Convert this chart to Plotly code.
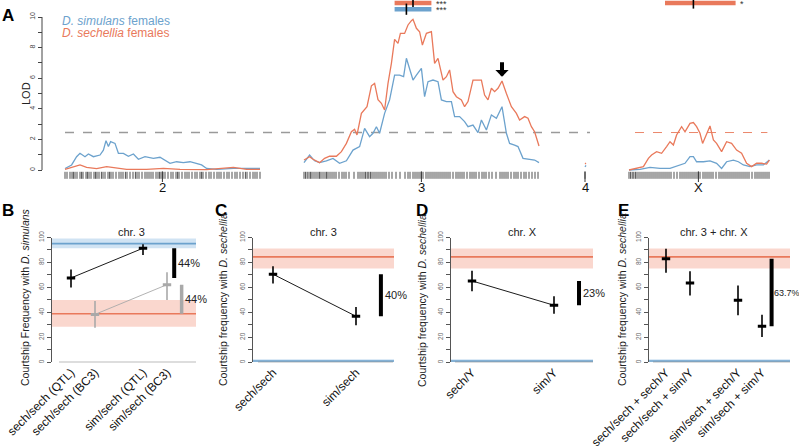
import plotly.graph_objects as go

# ---------------- DATA ----------------
# Panel A: LOD profiles (position in cM along each chromosome)
chr2_sim_pos = [0, 3.3, 5.8, 7.5, 10, 11.7, 14.2, 17.5, 19.2, 20.5, 21.7, 22.8, 25, 26.7, 29.2, 31.7, 34.2,
                36.7, 40, 44.2, 47.5, 50, 52.5, 55.8, 59.2, 62.5, 65.8, 68.3, 70.8, 75.8, 84.2, 90.8, 97.5]
chr2_sim_lod = [0.1, 0.33, 0.87, 1.09, 0.87, 1.05, 0.87, 0.98, 1.3, 1.92, 1.53, 1.85, 1.74, 1.09, 1.09, 0.9,
                1.05, 0.7, 0.87, 0.76, 0.83, 0.65, 0.44, 0.54, 0.48, 0.54, 0.44, 0.33, 0.1, 0.04, 0.1, 0.1, 0.1]
chr2_sech_pos = [0, 4.2, 7.5, 10.8, 15.8, 20.8, 24.2, 30.8, 40.8, 49.2, 57.5, 70.8, 84.2, 90.8, 97.5]
chr2_sech_lod = [0.04, 0.22, 0.33, 0.17, 0.09, 0.22, 0.15, 0.04, 0.04, 0.1, 0.04, 0.02, 0.17, 0.04, 0.04]

chr3_sech_pos = [0, 2.8, 4.5, 7.8, 10.3, 12.8, 16.2, 18.7, 21.2, 23.7, 25.3, 26.5, 28.7, 31.5, 33.7, 35.3,
                 37, 38.7, 40.3, 42, 43.7, 45.3, 47, 48.2, 50.3, 52, 53.7, 54.5, 56.2, 57.8, 59.2, 61.2,
                 63.7, 65.3, 67, 69.5, 71.2, 72.8, 74.5, 76.2, 78.7, 80.3, 82, 84.5, 86.2, 88.7, 90.3, 92,
                 93.7, 95.3, 97, 99, 101.2, 103.7, 106.2, 107.8, 110.3, 112, 113.7, 115.3, 117.5]
chr3_sech_lod = [0.65, 0.87, 0.7, 0.48, 0.76, 0.9, 0.9, 1.2, 1.74, 2.5, 2.66, 2.29, 3.7, 4.14, 5.5, 5.66,
                 4.6, 4.36, 3.92, 5.66, 6.97, 8.54, 8.28, 8.93, 8.93, 9.48, 9.76, 9.85, 9.26, 9.04, 8.17,
                 8.93, 9.04, 6.97, 7.3, 5.88, 6.1, 6.54, 5.12, 4.79, 4.58, 4.14, 4.47, 5.88, 5.88, 5.88,
                 4.9, 4.58, 5.34, 5.12, 5.34, 5.82, 5.0, 4.14, 3.7, 3.27, 3.49, 3.38, 2.83, 2.5, 1.57]
chr3_sim_pos = [0, 2.8, 5.3, 7.8, 11.2, 14.5, 17.8, 21.2, 24.5, 27.8, 30.3, 32.8, 34.5, 36.2, 37.8, 40.3,
                42.8, 45.3, 47.8, 49.8, 51.2, 52.8, 54.5, 56.2, 58.7, 60.3, 62, 64.5, 67, 68.7, 71.2, 73.7,
                75.3, 77.8, 80.3, 82, 84.5, 87, 88.7, 91.2, 93.7, 96.2, 99, 101.2, 102.8, 105.3, 107,
                109.5, 112.8, 115.3, 117.5]
chr3_sim_lod = [0.48, 0.98, 0.6, 0.48, 0.6, 0.76, 0.44, 0.6, 1.3, 1.53, 2.72, 2.18, 2.4, 2.83, 2.4, 3.7,
                4.58, 6.2, 6.2, 6.1, 7.3, 6.54, 5.88, 6.2, 6.64, 4.79, 5.77, 5.88, 5.77, 4.58, 4.47, 4.47,
                3.49, 3.49, 3.16, 2.83, 2.94, 2.44, 3.27, 2.61, 3.6, 3.38, 4.14, 2.4, 1.74, 1.63, 1.53,
                0.76, 0.7, 0.65, 0.48]

chr4_sim_pos = [0, 0.5]
chr4_sim_lod = [0.2, 0.3]
chr4_sech_pos = [0, 0.5]
chr4_sech_lod = [0.4, 0.45]

chrX_sech_pos = [0, 3.8, 7.2, 9.7, 11.3, 13.8, 16.3, 18.8, 20.5, 22.2, 23.8, 26.3, 28, 30.5, 32.2, 33.8,
                 35.5, 36.8, 38.8, 40.5, 42.2, 43.8, 46.3, 48.8, 51.3, 53.8, 56.3, 58.8, 61.3, 63.8, 66.3,
                 68.8, 70.2]
chrX_sech_lod = [0, 0.1, 0.22, 0.76, 0.98, 1.2, 1.09, 1.53, 1.85, 1.63, 2.29, 2.83, 2.5, 3.05, 3.1, 2.83,
                 2.4, 1.74, 2.4, 2.88, 1.96, 1.74, 1.2, 1.85, 1.74, 1.3, 1.09, 0.44, 0.22, 0.44, 0.44,
                 0.39, 0.65]
chrX_sim_pos = [0, 5.5, 10.5, 15.5, 20.5, 23.8, 28, 30.5, 32.2, 33.8, 37.2, 40.5, 43.8, 46.3, 48.8, 52.2,
                54.7, 57.2, 60.5, 63.8, 67.2, 70.2]
chrX_sim_lod = [0, 0.04, 0.17, 0.1, 0.1, 0.26, 0.44, 0.87, 0.87, 0.54, 0.54, 0.6, 0.44, 0.1, 0.54, 0.65,
                0.54, 0.33, 0.22, 0.33, 0.33, 0.65]

# genetic markers (rug), cM
chr2_markers = [0, 1, 2.5, 3.5, 4.2, 5, 6, 7.5, 8.3, 9, 10.5, 11.2, 12, 13, 14.5, 15.3, 16, 17, 18.2, 19,
                20, 21.5, 22.3, 23, 24, 25.5, 27, 28, 29, 30.2, 31, 32.5, 34, 35.2, 36, 37, 38.5, 40, 41,
                42, 43, 44, 45.5, 46.5, 47.3, 48, 49, 50, 51.5, 53, 54, 55.5, 56.3, 57, 58.5, 60, 61, 62,
                63.5, 65, 66, 67.5, 68.3, 69, 70.5, 72, 73, 74.5, 76, 77, 78, 79.5, 81, 82, 83.5, 85, 86,
                87.5, 89, 90.2, 91, 92.5, 94, 95, 96, 97.5]
chr3_markers = [0, 0.8, 1.6, 2.5, 3.3, 4, 5, 6, 7, 7.8, 8.5, 9.5, 10.5, 11.3, 12, 13, 14, 15, 16, 17.5, 19,
                20, 21, 22.5, 25, 27, 28, 29, 30, 30.8, 31.6, 32.4, 33.2, 34, 35, 36, 37, 38, 39, 40, 41,
                42.5, 44, 46, 48, 50.5, 52, 53, 54.5, 55.5, 56.5, 57.5, 58.5, 59.5, 61, 62, 63, 64, 65,
                66, 67, 68, 69, 70, 71, 72, 73, 74.5, 76, 77, 78, 79, 80, 81.5, 83, 84, 85, 86, 87.5, 89,
                90, 91, 92.5, 94, 96, 98, 99, 100, 101, 102, 103.5, 105, 106, 107, 108.5, 110, 111,
                112.5, 114, 115.5, 117]
chr4_markers = [0]
chrX_markers = [0, 0.8, 1.6, 2.4, 3.2, 4, 5, 6, 7, 8, 9, 10, 11, 12, 13, 14, 15, 16, 17, 18, 19, 20, 21,
                22.5, 24, 25.5, 26.5, 27.5, 28.5, 29.5, 30.5, 31.5, 32.5, 33.5, 34.5, 35.5, 37, 38, 39,
                40, 41, 42, 43.5, 45, 46, 47, 48, 49, 50, 51, 52, 53, 54, 55, 56, 57, 58, 59, 60, 61.5,
                63, 64, 65, 66, 67, 68, 69, 70]

chrom_names = ["2", "3", "4", "X"]
chrom_label_pos = [48.7, 58.7, 0, 34.7]   # cM of label tick
lod_threshold = 2.45

# QTL intervals (cM): [start, end], peak
chr3_sech_ci = [45.3, 63.7]; chr3_sech_peak = 54.5
chr3_sim_ci = [45.3, 63.7];  chr3_sim_peak = 51.2
chrX_sech_ci = [18.0, 53.3]; chrX_sech_peak = 32.2
arrow_pos_chr3 = 99.0
arrow_lod = 6.1

# Panel B
b_labels = ["sech/sech (QTL)", "sech/sech (BC3)", "sim/sech (QTL)", "sim/sech (BC3)"]
b_qtl_mean = [67.6, 91.4]; b_qtl_lo = [60.0, 86.0]; b_qtl_hi = [74.3, 94.6]
b_bc3_mean = [38.4, 62.2]; b_bc3_lo = [27.6, 50.0]; b_bc3_hi = [49.2, 72.2]
b_sim_ref = [95.1, 91.4, 99.2]     # mean, lo, hi
b_sech_ref = [38.9, 28.4, 50.0]
b_pct = ["44%", "44%"]

# Panel C
c_labels = ["sech/sech", "sim/sech"]
c_mean = [70.6, 36.9]; c_lo = [63.1, 29.7]; c_hi = [77.0, 44.4]
c_pct = "40%"
# Panel D
d_labels = ["sech/Y", "sim/Y"]
d_mean = [65.2, 45.7]; d_lo = [57.0, 39.0]; d_hi = [73.3, 53.0]
d_pct = "23%"
# Panel E
e_labels = ["sech/sech + sech/Y", "sech/sech + sim/Y", "sim/sech + sech/Y", "sim/sech + sim/Y"]
e_mean = [82.9, 63.6, 49.7, 28.8]; e_lo = [71.7, 53.5, 37.7, 20.3]; e_hi = [90.9, 73.0, 61.5, 38.2]
e_pct = "63.7%"
sech_ref = [84.5, 75.1, 91.2]
sim_ref = [1.0, 0.0, 2.5]

# ---------------- STYLE / LAYOUT ----------------
W, H = 799, 446
ORANGE = "#E9795B"
BLUE = "#6CA2CD"
ORANGE_FILL = "rgba(240,140,115,0.35)"
BLUE_FILL = "rgba(120,175,220,0.35)"
FONT = "Liberation Sans, Arial, sans-serif"

def px(x):
    return x / W

def py(y):
    return 1 - y / H

chrom_offset = {"2": 0, "3": 119.5, "4": 260, "X": 282}
chrom_len = {"2": 97.5, "3": 117.5, "4": 0.5, "X": 70.2}

def cum(ch, vals):
    return [chrom_offset[ch] + v for v in vals]

fig = go.Figure()

# ---------- Panel A ----------
def lod_at_px(y):
    return (170 - y) / 15.3

profiles = [
    ("2", chr2_sim_pos, chr2_sim_lod, BLUE), ("2", chr2_sech_pos, chr2_sech_lod, ORANGE),
    ("3", chr3_sim_pos, chr3_sim_lod, BLUE), ("3", chr3_sech_pos, chr3_sech_lod, ORANGE),
    ("4", chr4_sim_pos, chr4_sim_lod, BLUE), ("4", chr4_sech_pos, chr4_sech_lod, ORANGE),
    ("X", chrX_sim_pos, chrX_sim_lod, BLUE), ("X", chrX_sech_pos, chrX_sech_lod, ORANGE),
]

# threshold lines
fig.add_trace(go.Scatter(x=[chrom_offset["2"], chrom_offset["4"] + 2.5], y=[lod_threshold] * 2,
                         mode="lines", line=dict(color="#9a9a9a", width=1.3, dash="dash"),
                         xaxis="x", yaxis="y", hoverinfo="skip"))
fig.add_trace(go.Scatter(x=[chrom_offset["X"] + 3, chrom_offset["X"] + chrom_len["X"] - 1],
                         y=[lod_threshold] * 2, mode="lines",
                         line=dict(color=ORANGE, width=0.9, dash="dash"),
                         xaxis="x", yaxis="y", hoverinfo="skip"))

for ch, pos, lod, col in profiles:
    fig.add_trace(go.Scatter(x=cum(ch, pos), y=lod, mode="lines",
                             line=dict(color=col, width=1.3), xaxis="x", yaxis="y"))

# rug of markers
rug_x = cum("2", chr2_markers) + cum("3", chr3_markers) + cum("4", chr4_markers) + cum("X", chrX_markers)
fig.add_trace(go.Scatter(x=rug_x, y=[lod_at_px(175.3)] * len(rug_x), mode="markers",
                         marker=dict(symbol="line-ns", size=5, line=dict(color="#3a3a3a", width=0.9)),
                         xaxis="x", yaxis="y"))
# chromosome label ticks
lab_x = [chrom_offset[c] + p for c, p in zip(chrom_names, chrom_label_pos)]
fig.add_trace(go.Scatter(x=lab_x, y=[lod_at_px(177)] * len(lab_x), mode="markers",
                         marker=dict(symbol="line-ns", size=8, line=dict(color="#333", width=1)),
                         xaxis="x", yaxis="y"))

# QTL interval bars
ci_rows = [
    ("3", chr3_sech_ci, chr3_sech_peak, ORANGE, 3.0, "***"),
    ("3", chr3_sim_ci, chr3_sim_peak, BLUE, 9.2, "***"),
    ("X", chrX_sech_ci, chrX_sech_peak, ORANGE, 3.0, "*"),
]
for ch, ci, pk, col, ypx, star in ci_rows:
    yv = lod_at_px(ypx)
    fig.add_trace(go.Scatter(x=cum(ch, ci), y=[yv, yv], mode="lines", line=dict(color=col, width=4.5),
                             xaxis="x", yaxis="y"))
    fig.add_trace(go.Scatter(x=cum(ch, [pk]), y=[yv], mode="markers",
                             marker=dict(symbol="line-ns", size=8, line=dict(color="black", width=1.6)),
                             xaxis="x", yaxis="y"))
    fig.add_annotation(x=chrom_offset[ch] + ci[1] + 1.2, y=yv, xref="x", yref="y", text=star,
                       showarrow=False, xanchor="left", yanchor="middle", yshift=-1,
                       font=dict(size=9, color="#333", family=FONT))

# arrow
fig.add_annotation(x=chrom_offset["3"] + arrow_pos_chr3, y=arrow_lod, xref="x", yref="y",
                   ax=0, ay=-16, text="", showarrow=True, arrowhead=1, arrowsize=0.55,
                   arrowwidth=4, arrowcolor="black")

# ---------- Panels B–E ----------
def add_band(xa, ya, ref, fill, line_col):
    m, lo, hi = ref
    fig.add_shape(type="rect", xref=f"{xa} domain", yref=ya, x0=0, x1=1, y0=lo, y1=hi,
                  fillcolor=fill, line=dict(width=0), layer="below")
    fig.add_shape(type="line", xref=f"{xa} domain", yref=ya, x0=0, x1=1, y0=m, y1=m,
                  line=dict(color=line_col, width=1.6), layer="below")

def add_points(xa, ya, xs, mean, lo, hi, col, connect):
    fig.add_trace(go.Scatter(
        x=xs, y=mean, mode="lines+markers" if connect else "markers",
        line=dict(color=col, width=0.9),
        marker=dict(symbol="line-ew", size=6, line=dict(color=col, width=3)),
        error_y=dict(type="data", symmetric=False,
                     array=[h - m for h, m in zip(hi, mean)],
                     arrayminus=[m - l for m, l in zip(mean, lo)],
                     color=col, thickness=1.6, width=0),
        xaxis=xa, yaxis=ya))

def add_pct(xa, ya, xpos, y0, y1, col, width, text, text_dx, size=11):
    fig.add_trace(go.Scatter(x=[xpos, xpos], y=[y0, y1], mode="lines",
                             line=dict(color=col, width=width), xaxis=xa, yaxis=ya))
    fig.add_annotation(x=xpos, y=(y0 + y1) / 2, xref=xa, yref=ya, text=text, showarrow=False,
                       xanchor="left", yanchor="middle", xshift=text_dx,
                       font=dict(size=size, color="#222", family=FONT))

panels = {
    # name: (xaxis, yaxis, left_px, right_px, slot1_px, unit_px, axis_line_px)
    "B": ("x2", "y2", 51, 196, 71, 24, (59, 196)),
    "C": ("x3", "y3", 252, 394, 273, 83, (258, 393)),
    "D": ("x4", "y4", 450, 593, 472, 82, (455, 593)),
    "E": ("x5", "y5", 648, 790, 666, 24, (653, 790)),
}
Y0PX, Y100PX = 362.3, 237.5

layout_axes = {}
for name, (xa, ya, lpx, rpx, s1, unit, (al, ar)) in panels.items():
    rng = [1 + (lpx - s1) / unit, 1 + (rpx - s1) / unit]
    n = xa[1:]
    layout_axes[f"xaxis{n}"] = dict(domain=[px(lpx), px(rpx)], range=rng, anchor=ya, automargin=False,
                                    showgrid=False, zeroline=False, showline=False, ticks="",
                                    tickangle=-45, tickfont=dict(size=12, color="#111", family=FONT))
    layout_axes[f"yaxis{n}"] = dict(domain=[py(Y0PX), py(Y100PX)], range=[0, 100], anchor="free",
                                    position=px(lpx), automargin=False,
                                    showgrid=False, zeroline=False, showline=True,
                                    linecolor="#555", linewidth=1, ticks="outside", ticklen=4,
                                    tickcolor="#555", tickangle=-90,
                                    tickvals=list(range(0, 101, 10)),
                                    ticktext=[str(v) if v % 20 == 0 else "" for v in range(0, 101, 10)],
                                    tickfont=dict(size=6.5, color="#666", family=FONT))
    fig.add_shape(type="line", xref="paper", yref=ya, x0=px(al), x1=px(ar), y0=0, y1=0,
                  line=dict(color="#777", width=1.2))

# B
add_band("x2", "y2", b_sim_ref, BLUE_FILL, BLUE)
add_band("x2", "y2", b_sech_ref, ORANGE_FILL, ORANGE)
b_slots = [1, 2, 4, 5]
add_points("x2", "y2", [b_slots[0], b_slots[2]], b_qtl_mean, b_qtl_lo, b_qtl_hi, "black", True)
add_points("x2", "y2", [b_slots[1], b_slots[3]], b_bc3_mean, b_bc3_lo, b_bc3_hi, "#a9a9a9", True)
add_pct("x2", "y2", 5.30, b_qtl_mean[0], b_qtl_mean[1], "black", 4, b_pct[0], 2)
add_pct("x2", "y2", 5.61, b_sech_ref[0], b_bc3_mean[1], "#a9a9a9", 3.5, b_pct[1], 1)
layout_axes["xaxis2"].update(tickvals=b_slots, ticktext=b_labels)

# C
add_band("x3", "y3", sech_ref, ORANGE_FILL, ORANGE)
add_band("x3", "y3", sim_ref, BLUE_FILL, BLUE)
add_points("x3", "y3", [1, 2], c_mean, c_lo, c_hi, "black", True)
add_pct("x3", "y3", 2.30, c_mean[0], c_mean[1], "black", 4, c_pct, 2)
layout_axes["xaxis3"].update(tickvals=[1, 2], ticktext=c_labels)

# D
add_band("x4", "y4", sech_ref, ORANGE_FILL, ORANGE)
add_band("x4", "y4", sim_ref, BLUE_FILL, BLUE)
add_points("x4", "y4", [1, 2], d_mean, d_lo, d_hi, "black", True)
add_pct("x4", "y4", 2.305, d_mean[0], d_mean[1], "black", 4, d_pct, 2)
layout_axes["xaxis4"].update(tickvals=[1, 2], ticktext=d_labels)

# E
add_band("x5", "y5", sech_ref, ORANGE_FILL, ORANGE)
add_band("x5", "y5", sim_ref, BLUE_FILL, BLUE)
e_slots = [1, 2, 4, 5]
add_points("x5", "y5", e_slots, e_mean, e_lo, e_hi, "black", False)
add_pct("x5", "y5", 5.40, e_mean[0], e_mean[3], "black", 4, e_pct, 0, size=9)
layout_axes["xaxis5"].update(tickvals=e_slots, ticktext=e_labels)

# ---------- text annotations ----------
def ann(xp, yp, text, size, color="#111", angle=0, bold=False, xanchor="center"):
    fig.add_annotation(x=px(xp), y=py(yp), xref="paper", yref="paper", text=f"<b>{text}</b>" if bold else text,
                       showarrow=False, textangle=angle, xanchor=xanchor, yanchor="middle",
                       font=dict(size=size, color=color, family=FONT))

for letter, (lx, ly) in {"A": (8, 16), "B": (8, 211), "C": (221, 211), "D": (422, 211), "E": (623, 211)}.items():
    ann(lx, ly, letter, 17, "#000", bold=True)

ann(60, 21, "<i>D. simulans</i> females", 12, BLUE, xanchor="left")
ann(60, 33, "<i>D. sechellia</i> females", 12, ORANGE, xanchor="left")
ann(26, 94, "LOD", 11, "#222", angle=-90)

for c, lx in zip(chrom_names, lab_x):
    fig.add_annotation(x=lx, y=py(187), xref="x", yref="paper", text=c, showarrow=False,
                       yanchor="middle", font=dict(size=13, color="#111", family=FONT))

ann(131, 232, "chr. 3", 11, "#222")
ann(323, 232, "chr. 3", 11, "#222")
ann(522, 232, "chr. X", 11, "#222")
ann(714, 232, "chr. 3 + chr. X", 11, "#222")

ann(25, 297, "Courtship Frequency with <i>D. simulans</i>", 10.5, "#222", angle=-90)
ann(223, 300, "Courtship frequency with <i>D. sechellia</i>", 10.5, "#222", angle=-90)
ann(422, 300, "Courtship frequency with <i>D. sechellia</i>", 10.5, "#222", angle=-90)
ann(622, 300, "Courtship frequency with <i>D. sechellia</i>", 10.5, "#222", angle=-90)

# A y-axis line (0..10)
fig.add_shape(type="line", xref="paper", yref="y", x0=px(42), x1=px(42), y0=0, y1=10,
              line=dict(color="#444", width=1))

fig.update_layout(
    width=W, height=H, margin=dict(l=0, r=0, t=0, b=0, autoexpand=False),
    paper_bgcolor="white", plot_bgcolor="white", showlegend=False,
    font=dict(family=FONT),
    xaxis=dict(domain=[0, 1], range=[(0 - 65) / 2, (W - 65) / 2], visible=False, anchor="y",
               automargin=False),
    yaxis=dict(domain=[py(182), 1], range=[lod_at_px(182), lod_at_px(0)], anchor="free",
               position=px(42), automargin=False, showgrid=False, zeroline=False, showline=False,
               ticks="outside", ticklen=4, tickcolor="#444", tickangle=-90,
               tickvals=list(range(0, 11)),
               ticktext=[str(v) if v % 2 == 0 else "" for v in range(0, 11)],
               tickfont=dict(size=7, color="#444", family=FONT)),
    **layout_axes,
)

fig.write_html("out.html", config={"displayModeBar": False},
               post_script="document.body.style.margin='0';document.body.style.overflow='hidden';")
